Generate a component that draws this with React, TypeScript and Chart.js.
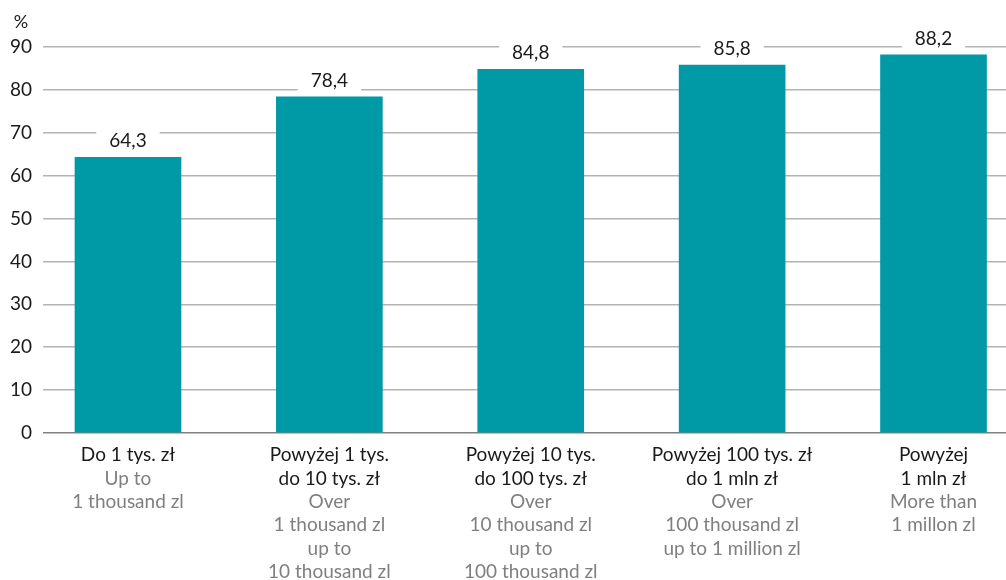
import React, { useEffect, useRef } from "react";
import { Chart, registerables } from "chart.js";

Chart.register(...registerables);

const values = [64.3, 78.4, 84.8, 85.8, 88.2];
const labelsPl = [
  ["Do 1 tys. zł"],
  ["Powyżej 1 tys.", "do 10 tys. zł"],
  ["Powyżej 10 tys.", "do 100 tys. zł"],
  ["Powyżej 100 tys. zł", "do 1 mln zł"],
  ["Powyżej", "1 mln zł"],
];
const labelsEn = [
  ["Up to", "1 thousand zl"],
  ["Over", "1 thousand zl", "up to", "10 thousand zl"],
  ["Over", "10 thousand zl", "up to", "100 thousand zl"],
  ["Over", "100 thousand zl", "up to 1 million zl"],
  ["More than", "1 millon zl"],
];
const yTicks = [0, 10, 20, 30, 40, 50, 60, 70, 80, 90];
const unitLabel = "%";

const FONT = "Lato, 'Open Sans', sans-serif";
const TEAL = "#0099a6";

const labelPlugin = {
  id: "customLabels",
  afterDraw(chart: any) {
    const ctx = chart.ctx;
    const xs = chart.scales.x;
    const area = chart.chartArea;
    ctx.save();
    ctx.font = `19px ${FONT}`;
    ctx.textAlign = "center";
    ctx.textBaseline = "middle";
    labelsPl.forEach((pl, i) => {
      const x = xs.getPixelForValue(i);
      let y = area.bottom + 22;
      ctx.fillStyle = "#1a1a1a";
      pl.forEach((line) => {
        ctx.fillText(line, x, y);
        y += 23.4;
      });
      ctx.fillStyle = "#7f7f7f";
      labelsEn[i].forEach((line) => {
        ctx.fillText(line, x, y);
        y += 23.4;
      });
    });
    ctx.fillStyle = "#1a1a1a";
    ctx.textAlign = "center";
    ctx.font = `18px ${FONT}`;
    ctx.fillText(unitLabel, 21, 22);
    ctx.restore();
  },
  afterDatasetsDraw(chart: any) {
    const ctx = chart.ctx;
    const meta = chart.getDatasetMeta(0);
    ctx.save();
    ctx.font = `19px ${FONT}`;
    ctx.textAlign = "center";
    ctx.textBaseline = "middle";
    meta.data.forEach((bar: any, i: number) => {
      const text = values[i].toFixed(1).replace(".", ",");
      const w = ctx.measureText(text).width + 26;
      const cy = bar.y - 16;
      ctx.fillStyle = "#ffffff";
      ctx.fillRect(bar.x - w / 2, cy - 11, w, 22);
      ctx.fillStyle = "#1a1a1a";
      ctx.fillText(text, bar.x, cy);
    });
    ctx.restore();
  },
};

export default function App() {
  const ref = useRef<HTMLCanvasElement>(null);
  useEffect(() => {
    if (!ref.current) return;
    const chart = new Chart(ref.current, {
      type: "bar",
      data: {
        datasets: [
          {
            data: values.map((v, i) => ({ x: i, y: v })),
            backgroundColor: TEAL,
            barThickness: 106,
          },
        ],
      },
      options: {
        animation: false,
        responsive: false,
        maintainAspectRatio: false,
        layout: { padding: { top: 47, bottom: 147, left: 0, right: 0 } },
        plugins: { legend: { display: false }, tooltip: { enabled: false } },
        scales: {
          x: {
            type: "linear",
            display: false,
            offset: false,
            min: -0.422,
            max: 4.36,
          },
          y: {
            min: 0,
            max: 90,
            afterBuildTicks: (s: any) => {
              s.ticks = yTicks.map((v) => ({ value: v }));
            },
            afterFit: (s: any) => {
              s.width = 43;
            },
            border: { display: false },
            grid: {
              drawTicks: false,
              color: (c: any) => (c.tick && c.tick.value === 0 ? "#808080" : "#b3b3b3"),
              lineWidth: 1.5,
            },
            ticks: {
              padding: 11,
              color: "#1a1a1a",
              font: { family: FONT, size: 19 },
            },
          },
        },
      } as any,
      plugins: [labelPlugin],
    });
    return () => chart.destroy();
  }, []);
  return (
    <div style={{ position: "fixed", left: 0, top: 0, width: 1006, height: 580, background: "#fff" }}>
      <canvas ref={ref} width={1006} height={580} />
    </div>
  );
}
